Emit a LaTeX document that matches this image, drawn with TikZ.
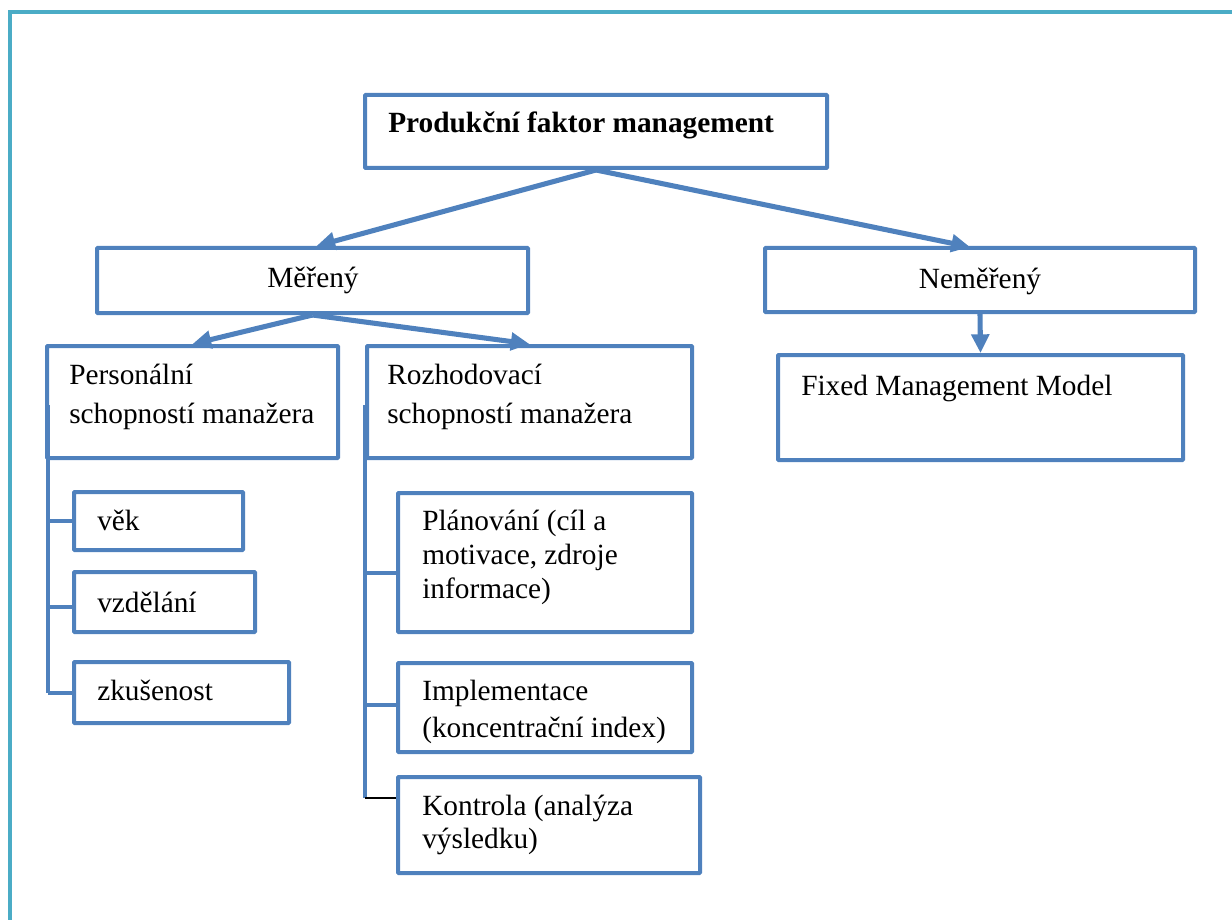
\documentclass[tikz,border=0pt]{standalone}
\usepackage{fontspec}
\setmainfont{Liberation Serif}
\usetikzlibrary{arrows.meta,fit,calc}
\definecolor{boxblue}{HTML}{4F81BD}
\definecolor{frameteal}{HTML}{4BACC6}
\begin{document}
\begin{tikzpicture}[x=0.75pt,y=-0.75pt,
  box/.style={draw=boxblue, line width=3pt, inner sep=0pt, rectangle, rounded corners=0.6pt},
  txt/.style={inner sep=0pt, align=left, text=black},
  conn/.style={draw=boxblue, line width=3.8pt, -{Triangle[length=14pt,width=13pt]}},
  tree/.style={draw=boxblue, line width=3pt},
  thinbranch/.style={draw=black, line width=0.8pt},
  frameline/.style={draw=frameteal, line width=3pt}]
\useasboundingbox (0,0) rectangle (1232,920);
% outer frame
\coordinate (fa) at (10,920);
\coordinate (fb) at (10,12);
\coordinate (fc) at (1232,12);
\draw[frameline] (fa) -- (fb) -- (fc);

% boxes
\node[box, fit={(365,95)(827,168)}] (top) {};
\node[box, fit={(97,248)(528,313)}] (mer) {};
\node[box, fit={(765,248)(1195,312)}] (nemer) {};
\node[box, fit={(778,355)(1183,460)}] (fixed) {};
\node[box, fit={(47,346)(338,458)}] (pers) {};
\node[box, fit={(367,346)(692,458)}] (rozh) {};
\node[box, fit={(74,492)(243,550)}] (vek) {};
\node[box, fit={(74,572)(255,632)}] (vzd) {};
\node[box, fit={(74,662)(289,723)}] (zku) {};
\node[box, fit={(398,493)(692,632)}] (plan) {};
\node[box, fit={(398,663)(692,752)}] (impl) {};
\node[box, fit={(398,777)(700,873)}] (kontr) {};

% texts (base anchor = baseline of the last line)
\node[txt, anchor=base west, font=\fontsize{22}{29}\selectfont\bfseries] (toptxt) at (388,133) {Produkční faktor management};
\node[txt, anchor=base, font=\fontsize{22}{29}\selectfont] (mertxt) at (313,287) {Měřený};
\node[txt, anchor=base, font=\fontsize{22}{29}\selectfont] (nemertxt) at (980,288) {Neměřený};
\node[txt, anchor=base west, font=\fontsize{22}{29}\selectfont] (fixedtxt) at (801,395) {Fixed Management Model};
\node[txt, anchor=base west, font=\fontsize{22}{29.25}\selectfont] (perstxt) at (69,423) {Personální\\schopností manažera};
\node[txt, anchor=base west, font=\fontsize{22}{29.25}\selectfont] (rozhtxt) at (387,423) {Rozhodovací\\schopností manažera};
\node[txt, anchor=base west, font=\fontsize{22}{29}\selectfont] (vektxt) at (97,530) {věk};
\node[txt, anchor=base west, font=\fontsize{22}{29}\selectfont] (vzdtxt) at (97,612) {vzdělání};
\node[txt, anchor=base west, font=\fontsize{22}{29}\selectfont] (zkutxt) at (97,700) {zkušenost};
\node[txt, anchor=base west, font=\fontsize{22}{25.5}\selectfont] (plantxt) at (422,598) {Plánování (cíl a\\motivace, zdroje\\informace)};
\node[txt, anchor=base west, font=\fontsize{22}{27.75}\selectfont] (impltxt) at (422,737) {Implementace\\(koncentrační index)};
\node[txt, anchor=base west, font=\fontsize{22}{24.75}\selectfont] (kontrtxt) at (422,848) {Kontrola (analýza\\výsledku)};

% arrows
\draw[conn] (top.south) -- ($(mer.north)+(4,0)$);
\draw[conn] (top.south) -- ($(nemer.north)+(-10,1)$);
\draw[conn] (nemer.south) -- (fixed.north);
\draw[conn] (mer.south) -- (pers.north);
\draw[conn] (mer.south) -- (rozh.north);

% left tree
\coordinate (lt) at (48,405);
\coordinate (lb) at (48,693);
\draw[tree] (lt) -- (lb);
\draw[tree] (lt |- vek.west) -- (vek.west);
\draw[tree] (lt |- 0,607) -- (vzd.west |- 0,607);
\draw[tree] (lb) -- (zku.west |- lb);

% right tree
\coordinate (rt) at (365,405);
\coordinate (rb) at (365,798);
\draw[tree] (rt) -- (rb);
\draw[tree] (rt |- 0,573) -- (plan.west |- 0,573);
\draw[tree] (rt |- 0,705) -- (impl.west |- 0,705);
\draw[thinbranch] (rb) -- (kontr.west |- rb);
\end{tikzpicture}
\end{document}
